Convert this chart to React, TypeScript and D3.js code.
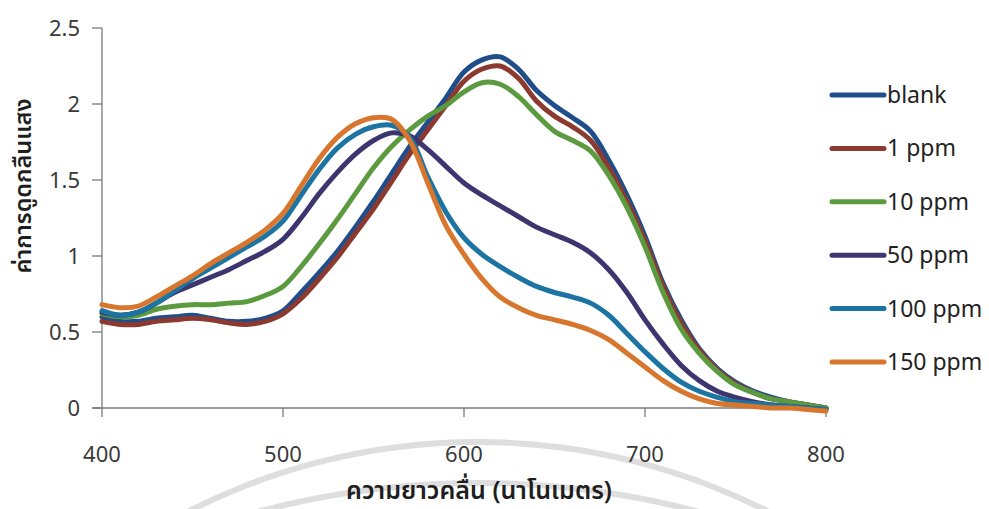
import React from "react";
import * as d3 from "d3";

const wavelengths = [400, 410, 420, 430, 440, 450, 460, 470, 480, 490, 500, 510, 520, 530, 540, 550, 560, 570, 580, 590, 600, 610, 620, 630, 640, 650, 660, 670, 680, 690, 700, 710, 720, 730, 740, 750, 760, 770, 780, 790, 800];

const blank = [0.60, 0.57, 0.57, 0.59, 0.60, 0.61, 0.59, 0.57, 0.57, 0.59, 0.64, 0.76, 0.89, 1.03, 1.19, 1.36, 1.54, 1.72, 1.88, 2.04, 2.21, 2.29, 2.31, 2.23, 2.09, 1.99, 1.91, 1.82, 1.63, 1.40, 1.13, 0.82, 0.58, 0.39, 0.26, 0.17, 0.11, 0.07, 0.04, 0.02, 0.0];
const ppm1 = [0.57, 0.55, 0.55, 0.57, 0.58, 0.59, 0.58, 0.56, 0.55, 0.57, 0.62, 0.72, 0.85, 0.99, 1.15, 1.31, 1.49, 1.67, 1.83, 1.99, 2.15, 2.23, 2.25, 2.17, 2.02, 1.92, 1.85, 1.76, 1.58, 1.36, 1.10, 0.80, 0.56, 0.38, 0.25, 0.16, 0.10, 0.06, 0.04, 0.02, 0.0];
const ppm10 = [0.62, 0.60, 0.61, 0.65, 0.67, 0.68, 0.68, 0.69, 0.70, 0.74, 0.80, 0.93, 1.08, 1.24, 1.41, 1.58, 1.72, 1.83, 1.92, 1.99, 2.08, 2.14, 2.13, 2.05, 1.93, 1.82, 1.76, 1.69, 1.53, 1.32, 1.06, 0.76, 0.52, 0.36, 0.24, 0.15, 0.10, 0.06, 0.04, 0.02, 0.0];
const ppm50 = [0.63, 0.61, 0.63, 0.69, 0.76, 0.81, 0.86, 0.91, 0.97, 1.03, 1.11, 1.25, 1.41, 1.55, 1.67, 1.76, 1.81, 1.79, 1.70, 1.59, 1.48, 1.40, 1.33, 1.26, 1.19, 1.14, 1.09, 1.02, 0.91, 0.76, 0.58, 0.42, 0.28, 0.18, 0.11, 0.07, 0.04, 0.02, 0.01, 0.0, -0.01];
const ppm100 = [0.64, 0.61, 0.63, 0.69, 0.77, 0.85, 0.92, 0.99, 1.06, 1.13, 1.23, 1.40, 1.57, 1.71, 1.80, 1.85, 1.86, 1.78, 1.52, 1.29, 1.12, 1.01, 0.93, 0.86, 0.80, 0.76, 0.73, 0.69, 0.61, 0.49, 0.37, 0.26, 0.17, 0.11, 0.07, 0.04, 0.03, 0.02, 0.01, 0.0, -0.01];
const ppm150 = [0.68, 0.66, 0.67, 0.73, 0.80, 0.87, 0.95, 1.02, 1.09, 1.17, 1.28, 1.46, 1.64, 1.78, 1.87, 1.91, 1.90, 1.76, 1.48, 1.20, 1.01, 0.85, 0.73, 0.66, 0.61, 0.58, 0.55, 0.51, 0.45, 0.36, 0.27, 0.18, 0.11, 0.06, 0.03, 0.02, 0.01, 0.0, 0.0, -0.01, -0.02];

const seriesNames = ["blank", "1 ppm", "10 ppm", "50 ppm", "100 ppm", "150 ppm"];
const seriesValues = [blank, ppm1, ppm10, ppm50, ppm100, ppm150];
const seriesColors = ["#1f4e8a", "#8c3a30", "#5b9a3e", "#3d3570", "#1b74a1", "#d8762e"];

const xTicks = [400, 500, 600, 700, 800];
const yTicks = [0, 0.5, 1, 1.5, 2, 2.5];
const yTickLabels = ["0", "0.5", "1", "1.5", "2", "2.5"];

const xTitle = "ความยาวคลื่น (นาโนเมตร)";
const yTitle = "ค่าการดูดกลืนแสง";

const W = 989;
const H = 509;

export default function App() {
  const x = d3.scaleLinear().domain([400, 800]).range([102, 826]);
  const y = d3.scaleLinear().domain([0, 2.5]).range([408, 28]);
  const line = d3
    .line<number>()
    .x((_, i) => x(wavelengths[i]))
    .y((d) => y(d))
    .curve(d3.curveCatmullRom.alpha(0.5));

  const axisColor = "#7a7a7a";
  const textFont = "'Noto Sans Thai', 'Open Sans', 'Noto Sans', sans-serif";

  const outerArc = d3.arc()({ innerRadius: 637, outerRadius: 643, startAngle: -0.5, endAngle: 0.5 }) as string;
  const innerArc = d3.arc()({ innerRadius: 857, outerRadius: 863, startAngle: -0.3, endAngle: 0.3 }) as string;

  return (
    <svg
      width={W}
      height={H}
      style={{ position: "absolute", left: 0, top: 0, background: "#fff" }}
    >
      <rect width={W} height={H} fill="#ffffff" />
      {/* watermark arcs */}
      <path d={outerArc} transform="translate(478,1082)" fill="#dedede" />
      <path d={innerArc} transform="translate(478,1343)" fill="#dedede" />

      {/* axes */}
      <line x1={x(400)} x2={x(400)} y1={y(2.5)} y2={y(0) + 9} stroke={axisColor} strokeWidth={1.3} />
      <line x1={x(400) - 10} x2={x(800)} y1={y(0)} y2={y(0)} stroke={axisColor} strokeWidth={1.3} />
      {yTicks.map((t) => (
        <line key={"yt" + t} x1={x(400) - 10} x2={x(400)} y1={y(t)} y2={y(t)} stroke={axisColor} strokeWidth={1.3} />
      ))}
      {xTicks.slice(1).map((t) => (
        <line key={"xt" + t} x1={x(t)} x2={x(t)} y1={y(0)} y2={y(0) + 9} stroke={axisColor} strokeWidth={1.3} />
      ))}
      {yTicks.map((t, i) => (
        <text
          key={"yl" + t}
          x={80}
          y={y(t)}
          dy="0.35em"
          textAnchor="end"
          fontFamily={textFont}
          fontSize={22}
          fill="#3a3a3a"
        >
          {yTickLabels[i]}
        </text>
      ))}
      {xTicks.map((t) => (
        <text
          key={"xl" + t}
          x={x(t)}
          y={462}
          textAnchor="middle"
          fontFamily={textFont}
          fontSize={22}
          fill="#3a3a3a"
        >
          {t}
        </text>
      ))}

      {/* titles */}
      <text
        x={479}
        y={499}
        textAnchor="middle"
        fontFamily={textFont}
        fontSize={25}
        fontWeight={600}
        fill="#1e1e1e"
      >
        {xTitle}
      </text>
      <text
        transform={`translate(31,186) rotate(-90)`}
        textAnchor="middle"
        fontFamily={textFont}
        fontSize={23.5}
        fontWeight={600}
        fill="#1e1e1e"
      >
        {yTitle}
      </text>

      {/* series */}
      {seriesValues.map((vals, i) => (
        <path
          key={seriesNames[i]}
          d={line(vals) as string}
          fill="none"
          stroke={seriesColors[i]}
          strokeWidth={5}
          strokeLinejoin="round"
          strokeLinecap="round"
        />
      ))}

      {/* legend */}
      {seriesNames.map((name, i) => {
        const ly = 95 + i * 53.4;
        return (
          <g key={"lg" + name}>
            <line x1={832} x2={884} y1={ly} y2={ly} stroke={seriesColors[i]} strokeWidth={5} strokeLinecap="round" />
            <text x={887} y={ly} dy="0.35em" fontFamily={textFont} fontSize={23} fill="#222">
              {name}
            </text>
          </g>
        );
      })}
    </svg>
  );
}
